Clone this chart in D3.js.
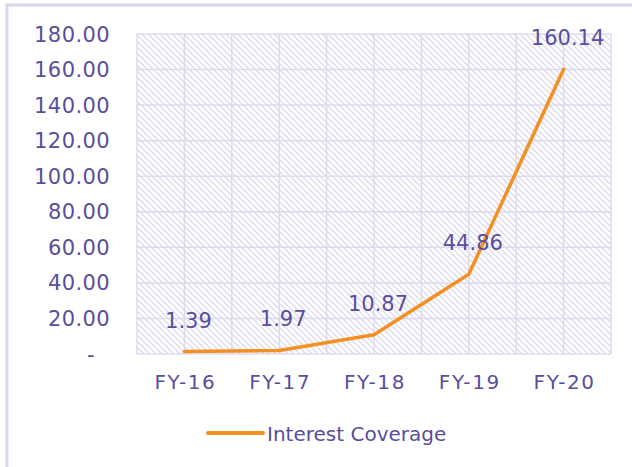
<!DOCTYPE html>
<html>
<head>
<meta charset="utf-8">
<script src="https://cdn.jsdelivr.net/npm/d3@7"></script>
<style>
  html, body { margin: 0; padding: 0; background: #fff; }
  svg text { font-family: "DejaVu Sans", sans-serif; fill: #5a4e9c; }
</style>
</head>
<body>
<div id="chart"></div>
<script>
// Interest coverage, FY-16 .. FY-20
const categories = ['FY-16', 'FY-17', 'FY-18', 'FY-19', 'FY-20'];
const values = [1.39, 1.97, 10.87, 44.86, 160.14];
const yTicks = [0, 20, 40, 60, 80, 100, 120, 140, 160, 180];
const seriesName = 'Interest Coverage';

const width = 632, height = 467;
const margin = { top: 34, right: 21, bottom: 113, left: 137 };
const lineColor = '#f39022';
const gridColor = '#dedaee';

const svg = d3.select('#chart').append('svg')
  .attr('width', width)
  .attr('height', height);

// outer frame (runs off the right and bottom edges)
svg.append('rect')
  .attr('x', 7).attr('y', 5)
  .attr('width', width + 20).attr('height', height + 20)
  .attr('fill', 'none')
  .attr('stroke', '#d9d5ea')
  .attr('stroke-width', 3);

// hatch fill
const defs = svg.append('defs');
const pat = defs.append('pattern')
  .attr('id', 'hatch')
  .attr('patternUnits', 'userSpaceOnUse')
  .attr('width', 6).attr('height', 6);
pat.append('path')
  .attr('d', 'M0,0 L6,6 M-1,5 L1,7 M5,-1 L7,1')
  .attr('stroke', '#dcd8ef')
  .attr('stroke-width', 1.3);

const x = d3.scaleBand()
  .domain(categories)
  .range([margin.left, width - margin.right]);

const y = d3.scaleLinear()
  .domain([0, 180])
  .range([height - margin.bottom, margin.top]);

svg.append('rect')
  .attr('x', margin.left).attr('y', margin.top)
  .attr('width', width - margin.right - margin.left)
  .attr('height', y(0) - margin.top)
  .attr('fill', 'url(#hatch)');

// horizontal gridlines
svg.append('g')
  .selectAll('line')
  .data(yTicks)
  .enter().append('line')
  .attr('x1', margin.left).attr('x2', width - margin.right)
  .attr('y1', d => y(d)).attr('y2', d => y(d))
  .attr('stroke', gridColor)
  .attr('stroke-width', 1.5);

// vertical gridlines at band edges and centres
const vx = [];
categories.forEach(c => { vx.push(x(c)); vx.push(x(c) + x.bandwidth() / 2); });
vx.push(width - margin.right);
svg.append('g')
  .selectAll('line')
  .data(vx)
  .enter().append('line')
  .attr('x1', d => d).attr('x2', d => d)
  .attr('y1', margin.top).attr('y2', y(0))
  .attr('stroke', gridColor)
  .attr('stroke-width', 1.5);

// y tick labels
svg.append('g')
  .selectAll('text')
  .data(yTicks)
  .enter().append('text')
  .attr('x', d => d === 0 ? 95 : 110)
  .attr('y', d => y(d))
  .attr('dy', '0.36em')
  .attr('text-anchor', 'end')
  .attr('font-size', 21)
  .attr('letter-spacing', 0.4)
  .text(d => d === 0 ? '-' : d3.format('.2f')(d));

// x labels
svg.append('g')
  .selectAll('text')
  .data(categories)
  .enter().append('text')
  .attr('x', d => x(d) + x.bandwidth() / 2 + 1)
  .attr('y', 389)
  .attr('text-anchor', 'middle')
  .attr('font-size', 20)
  .attr('letter-spacing', 1.6)
  .text(d => d);

// line
const pts = categories.map((c, i) => ({ c, v: values[i] }));
const line = d3.line()
  .x(d => x(d.c) + x.bandwidth() / 2)
  .y(d => y(d.v));

svg.append('path')
  .datum(pts)
  .attr('d', line)
  .attr('fill', 'none')
  .attr('stroke', lineColor)
  .attr('stroke-width', 3.5)
  .attr('stroke-linecap', 'round')
  .attr('stroke-linejoin', 'round');

// data labels
svg.append('g')
  .selectAll('text')
  .data(pts)
  .enter().append('text')
  .attr('x', d => x(d.c) + x.bandwidth() / 2 + 4)
  .attr('y', d => y(d.v) - 24)
  .attr('text-anchor', 'middle')
  .attr('font-size', 21)
  .text(d => d3.format('.2f')(d.v));

// legend
const lg = svg.append('g').attr('transform', 'translate(208, 433)');
lg.append('line')
  .attr('x1', 0).attr('x2', 55)
  .attr('y1', 0).attr('y2', 0)
  .attr('stroke', lineColor)
  .attr('stroke-width', 4)
  .attr('stroke-linecap', 'round');
lg.append('text')
  .attr('x', 59)
  .attr('y', 8)
  .attr('font-size', 20)
  .text(seriesName);
</script>
</body>
</html>
